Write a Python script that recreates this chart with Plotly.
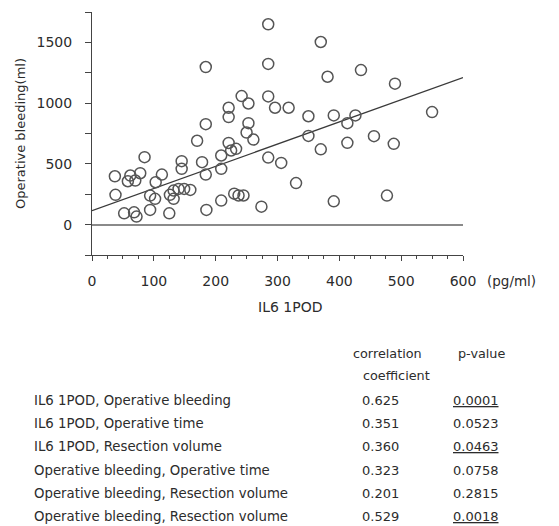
import plotly.graph_objects as go

# ---- scatter data (IL6 1POD [pg/ml] vs operative bleeding [ml]) ----
il6 = [37, 38, 58, 62, 70, 78, 85, 52, 68, 72, 94, 94, 102, 103, 113, 125, 126, 132, 132,
       140, 149, 159, 145, 145, 170, 178, 184, 184, 184, 185, 209, 209, 209, 221, 221, 221,
       225, 233, 230, 237, 245, 242, 253, 253, 250, 261, 274, 285, 285, 285, 285, 296, 306,
       318, 330, 350, 350, 370, 370, 381, 391, 391, 413, 413, 426, 435, 456, 488, 490, 477, 550]
bleeding = [398, 245, 357, 404, 363, 423, 555, 93, 101, 66, 121, 239, 212, 349, 412, 93, 245,
            280, 212, 294, 294, 286, 522, 459, 690, 514, 412, 827, 1297, 121, 198, 459, 569,
            962, 885, 672, 610, 624, 255, 240, 240, 1058, 997, 835, 758, 700, 148, 1649, 1323,
            1055, 552, 962, 508, 962, 342, 892, 730, 1503, 620, 1217, 899, 192, 835, 673, 899,
            1272, 728, 665, 1160, 239, 926]

# regression line
line_x = [0, 600]
line_y = [115, 1210]

# axis ticks
y_tickvals = [0, 500, 1000, 1500]
x_tickvals = [0, 100, 200, 300, 400, 500, 600]

# ---- table ----
pairs = ["IL6 1POD, Operative bleeding", "IL6 1POD, Operative time", "IL6 1POD, Resection volume",
         "Operative bleeding, Operative time", "Operative bleeding, Resection volume",
         "Operative bleeding, Resection volume"]
corr = ["0.625", "0.351", "0.360", "0.323", "0.201", "0.529"]
pvals = ["0.0001", "0.0523", "0.0463", "0.0758", "0.2815", "0.0018"]
significant = [True, False, True, False, False, True]

FONT = "DejaVu Sans"
TXT = "#2c2c2c"

fig = go.Figure()
fig.add_trace(go.Scatter(x=line_x, y=line_y, mode="lines",
                         line=dict(color="#3a3a3a", width=1.3), hoverinfo="skip"))
fig.add_trace(go.Scatter(x=il6, y=bleeding, mode="markers",
                         marker=dict(symbol="circle-open", size=11, color="#555555",
                                     line=dict(width=1.5, color="#555555"))))

W, H = 559, 526
L, R, T, B = 92, 96, 12, 271
pw, ph = W - L - R, H - T - B


def px2paper(px, py):
    return (px - L) / pw, (H - B - py) / ph


fig.update_layout(
    width=W, height=H, margin=dict(l=L, r=R, t=T, b=B),
    paper_bgcolor="white", plot_bgcolor="white", showlegend=False,
    font=dict(family=FONT, color=TXT, size=14),
)
fig.update_xaxes(
    range=[0, 600], tickvals=x_tickvals, ticks="outside", ticklen=5, tickwidth=1,
    tickcolor="#444", showline=True, linecolor="#444", linewidth=1, showgrid=False,
    zeroline=False, tickfont=dict(size=14, color=TXT), ticklabelstandoff=8,
    minor=dict(dtick=25, tick0=0, ticks="outside", ticklen=3, tickcolor="#444", showgrid=False),
)
fig.update_yaxes(
    range=[-250, 1750], tickvals=y_tickvals, ticks="outside", ticklen=6, tickwidth=1,
    tickcolor="#444", showline=True, linecolor="#444", linewidth=1, showgrid=False,
    zeroline=True, zerolinecolor="#8a8a8a", zerolinewidth=2,
    tickfont=dict(size=14, color=TXT), ticklabelstandoff=10,
    minor=dict(dtick=250, tick0=0, ticks="outside", ticklen=6, tickcolor="#444", showgrid=False),
    title=dict(text="Operative bleeding(ml)", font=dict(size=13, color=TXT), standoff=8),
)

ann = []


def add(px, py, text, size, xanchor="center"):
    x, y = px2paper(px, py)
    ann.append(dict(x=x, y=y, text=text, showarrow=False, xref="paper", yref="paper",
                    xanchor=xanchor, yanchor="middle", font=dict(size=size, color=TXT)))


add(485, 281, "(pg/ml)", 13.5, "left")
add(290, 307, "IL6 1POD", 14)

# table header
add(387, 353, "correlation", 12.8)
add(396, 375, "coefficient", 12.8)
add(481, 353, "p-value", 12.8)

row_y = [400.7, 423.3, 446.7, 470, 493.3, 516]
for i, (p, c, v, s) in enumerate(zip(pairs, corr, pvals, significant)):
    add(32, row_y[i], p, 13.3, "left")
    add(360, row_y[i], c, 13, "left")
    add(451, row_y[i], ("<u>%s</u>" % v) if s else v, 13, "left")

fig.update_layout(annotations=ann)
fig.write_html("out.html")
